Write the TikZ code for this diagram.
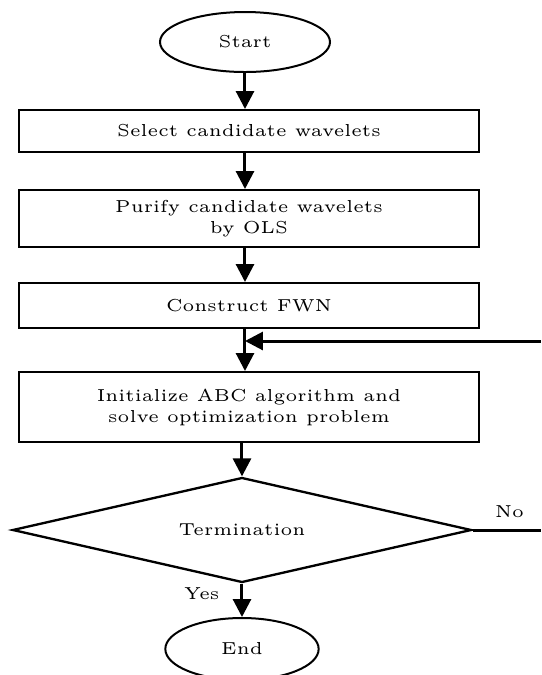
\documentclass[tikz,border=0pt]{standalone}
\usetikzlibrary{shapes.geometric, arrows.meta}
\begin{document}
\begin{tikzpicture}[x=0.3pt, y=-0.3pt,
        every node/.style={font=\fontsize{5.2}{6.3}\selectfont},
        b/.style={draw, line width=0.6pt, minimum width=138pt, align=center, inner sep=0pt},
        e/.style={draw, ellipse, line width=0.6pt, inner sep=0pt},
        d/.style={draw, diamond, aspect=4.37, line width=0.7pt, minimum width=137.7pt, minimum height=31.5pt, inner sep=0pt},
        a/.style={line width=0.9pt, -{Triangle[length=5.4pt, width=5.4pt]}}]
        \useasboundingbox (0,0) rectangle (541,675);
        \clip (0,0) rectangle (541,675);

        \node[e, minimum width=51pt, minimum height=18pt] (start) at (245,42) {Start};
        \node[b, minimum height=12.6pt] (select) at (249,131) {Select candidate wavelets};
        \node[b, minimum height=17.1pt] (purify) at (249,218.5) {Purify candidate wavelets\\by OLS};
        \node[b, minimum height=13.5pt] (fwn) at (249,305.5) {Construct FWN};
        \node[b, minimum height=21pt] (abc) at (249,407) {Initialize ABC algorithm and\\solve optimization problem};
        \node[d] (term) at (242,530) {Termination};
        \node[e, minimum width=46pt, minimum height=18.6pt] (end) at (242,649) {End};

        \coordinate (r1) at (570,530);
        \coordinate (r2) at (570,341);

        \draw[a] (start) -- (start |- select.north);
        \draw[a] (start |- select.south) -- (start |- purify.north);
        \draw[a] (start |- purify.south) -- (start |- fwn.north);
        \draw[a] (start |- fwn.south) -- (start |- abc.north);
        \draw[a] (abc.south -| term) -- (term);
        \draw[a] (term) -- node[pos=0.3, left=3pt] {Yes} (end);
        \draw[a] (term.east) -- node[pos=0.38, above] {No} (r1) -- (r2) -- (r2 -| start);
    \end{tikzpicture}
\end{document}
